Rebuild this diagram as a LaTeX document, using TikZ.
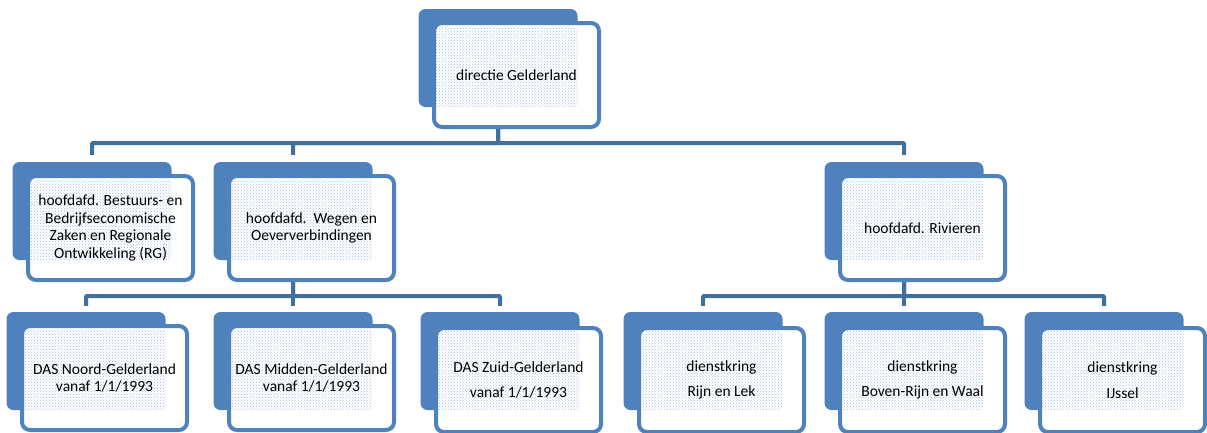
\documentclass[tikz,border=0pt]{standalone}
\usepackage{fontspec}
\setmainfont{Carlito}
\usepackage{tikz}
\usetikzlibrary{patterns}
\definecolor{boxblue}{HTML}{4F81BD}
\definecolor{linkblue}{HTML}{41709F}
\definecolor{dotblue}{HTML}{A9BEDD}

\begin{document}
\begin{tikzpicture}[
  x=1pt, y=1pt,
  font=\fontsize{15.5}{17.5}\selectfont,
  back/.style={fill=boxblue, rounded corners=7pt, minimum width=159pt, minimum height=98pt, inner sep=0pt},
  front/.style={draw=boxblue, line width=4pt, fill=white, rounded corners=8pt, align=center,
    minimum width=165pt, minimum height=104pt, inner sep=0pt,
    path picture={\fill[pattern=crosshatch dots, pattern color=dotblue, rounded corners=4pt]
      ([yshift=-3pt]path picture bounding box.north west) rectangle (#1.south east);}},
  link/.style={draw=linkblue, line width=4pt, rounded corners=1pt},
]
\useasboundingbox (0,0) rectangle (1207,-432);

\node[back] (dirb) at (498,-58) {};
\node[front=dirb] (dir) at (516.5,-75) {directie Gelderland};

\node[back] (hbeb) at (92,-211) {};
\node[front=hbeb] (hbe) at (110.5,-228)
  {hoofdafd. Bestuurs- en\\Bedrijfseconomische\\Zaken en Regionale\\Ontwikkeling (RG)};
\node[back] (hwob) at (293,-211) {};
\node[front=hwob] (hwo) at (311.5,-228) {hoofdafd.\ \ Wegen en\\Oeververbindingen};
\node[back] (hrib) at (904,-211) {};
\node[front=hrib] (hri) at (922.5,-228) {hoofdafd. Rivieren};

\node[back] (noordb) at (86,-361) {};
\node[front=noordb] (noord) at (104.5,-378) {DAS Noord-Gelderland\\vanaf 1/1/1993};
\node[back] (middenb) at (293,-361) {};
\node[front=middenb] (midden) at (311.5,-378) {DAS Midden-Gelderland\\vanaf 1/1/1993};
\node[back] (zuidb) at (500,-361) {};
\node[front=zuidb] (zuid) at (518.5,-380) {DAS Zuid-Gelderland\\[8pt]vanaf 1/1/1993};

\node[back] (rijnb) at (703,-361) {};
\node[front=rijnb] (rijn) at (721.5,-380) {dienstkring\\[8pt]Rijn en Lek};
\node[back] (bovenb) at (904,-361) {};
\node[front=bovenb] (boven) at (922.5,-380) {dienstkring\\[8pt]Boven-Rijn en Waal};
\node[back] (ijsselb) at (1104,-361) {};
\node[front=ijsselb] (ijssel) at (1122.5,-380) {dienstkring\\[8pt]IJssel};

\coordinate (bar1) at (0,-143);
\coordinate (bar2) at (0,-296);
\foreach \n in {hbeb,hwob,hrib}
  \draw[link, shorten >=7pt] (dirb |- dir.south) |- (bar1 -| \n) -- (\n.north);
\foreach \n in {noordb,middenb,zuidb}
  \draw[link, shorten >=6pt] (hwob |- hwo.south) |- (bar2 -| \n) -- (\n.north);
\foreach \n in {rijnb,bovenb,ijsselb}
  \draw[link, shorten >=6pt] (hrib |- hri.south) |- (bar2 -| \n) -- (\n.north);
\end{tikzpicture}
\end{document}
